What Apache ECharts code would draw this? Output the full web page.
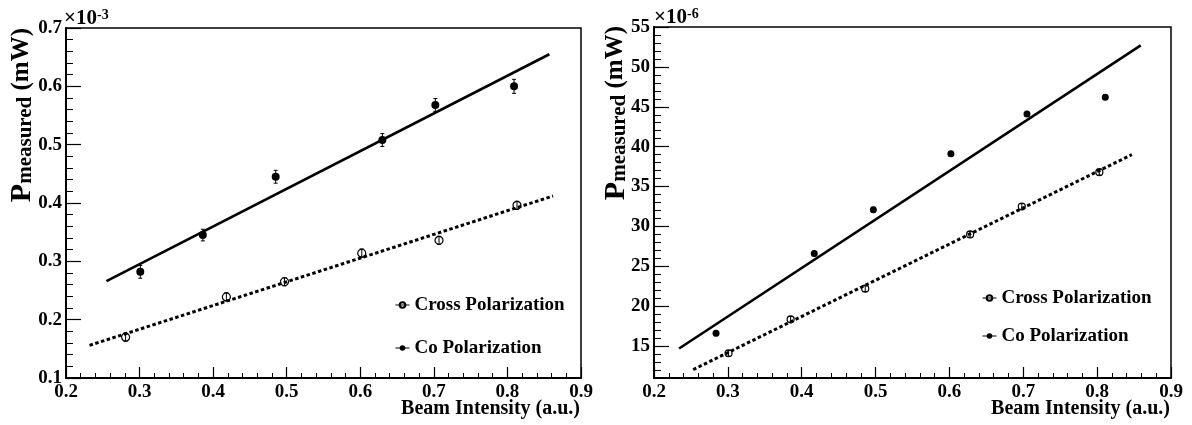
<!DOCTYPE html>
<html>
<head>
<meta charset="utf-8">
<script src="https://cdn.jsdelivr.net/npm/echarts@6/dist/echarts.min.js"></script>
<style>
html,body{margin:0;padding:0;background:#fff;}
#c{width:1192px;height:425px;}
</style>
</head>
<body>
<div id="c"></div>
<script>
// ---------- Data ----------
// Left panel (units of 1e-3 mW)
var leftCoX = [0.301, 0.386, 0.485, 0.630, 0.702, 0.809];
var leftCoY = [0.282, 0.345, 0.445, 0.508, 0.568, 0.600];
var leftCoErr = [0.011, 0.010, 0.011, 0.011, 0.011, 0.012];
var leftCrossX = [0.281, 0.418, 0.497, 0.602, 0.707, 0.813];
var leftCrossY = [0.170, 0.239, 0.265, 0.314, 0.336, 0.396];
var leftCrossErr = [0.007, 0.007, 0.007, 0.007, 0.007, 0.007];
var leftCoFitX = [0.255, 0.857];
var leftCoFitY = [0.266, 0.655];
var leftCrossFitX = [0.232, 0.862];
var leftCrossFitY = [0.156, 0.412];

// Right panel (units of 1e-6 mW)
var rightCoX = [0.284, 0.417, 0.497, 0.602, 0.705, 0.811];
var rightCoY = [16.6, 26.6, 32.1, 39.1, 44.1, 46.2];
var rightCoErr = [0.3, 0.3, 0.3, 0.3, 0.3, 0.3];
var rightCrossX = [0.301, 0.385, 0.486, 0.628, 0.698, 0.803];
var rightCrossY = [14.1, 18.35, 22.2, 29.0, 32.5, 36.8];
var rightCrossErr = [0.35, 0.35, 0.35, 0.35, 0.35, 0.35];
var rightCoFitX = [0.234, 0.859];
var rightCoFitY = [14.7, 52.7];
var rightCrossFitX = [0.253, 0.847];
var rightCrossFitY = [12.05, 39.0];

// Tick values
var rightYMajor = [15, 20, 25, 30, 35, 40, 45, 50, 55];
var rightYMinor = [12, 13, 14, 16, 17, 18, 19, 21, 22, 23, 24, 26, 27, 28, 29, 31, 32, 33, 34, 36, 37, 38, 39, 41, 42, 43, 44, 46, 47, 48, 49, 51, 52, 53, 54];

var seriesNames = ['Cross Polarization', 'Co Polarization'];
var xTitle = 'Beam Intensity (a.u.)';

// ---------- Helpers ----------
var FONT = 'Liberation Serif';
function zip(xs, ys) { return xs.map(function (x, i) { return [x, ys[i]]; }); }
function zip3(xs, ys, es) { return xs.map(function (x, i) { return [x, ys[i], es[i]]; }); }

function xAxisCfg(gi) {
  return {
    gridIndex: gi, type: 'value', min: 0.2, max: 0.9, interval: 0.1,
    axisLine: { lineStyle: { color: '#000', width: 2 } },
    axisTick: { inside: true, length: 11, lineStyle: { color: '#000', width: 1.2 } },
    minorTick: { show: true, splitNumber: 5, length: 5, lineStyle: { color: '#000', width: 1 } },
    splitLine: { show: false },
    axisLabel: { margin: 5, color: '#000', fontFamily: FONT, fontWeight: 'bold', fontSize: 19,
      formatter: function (v) { return v.toFixed(1); } }
  };
}

function errSeries(xi, yi, data) {
  return {
    type: 'custom', xAxisIndex: xi, yAxisIndex: yi, z: 2, silent: true,
    encode: { x: 0, y: 1 },
    data: data,
    renderItem: function (params, api) {
      var x = api.value(0), y = api.value(1), e = api.value(2);
      var t = api.coord([x, y + e]);
      var b = api.coord([x, y - e]);
      var st = { stroke: '#000', lineWidth: 1 };
      return {
        type: 'group',
        children: [
          { type: 'line', shape: { x1: t[0], y1: t[1], x2: b[0], y2: b[1] }, style: st },
          { type: 'line', shape: { x1: t[0] - 2, y1: t[1], x2: t[0] + 2, y2: t[1] }, style: st },
          { type: 'line', shape: { x1: b[0] - 2, y1: b[1], x2: b[0] + 2, y2: b[1] }, style: st }
        ]
      };
    }
  };
}

function pointSeries(name, xi, yi, data, open, size) {
  return {
    name: name, type: 'line', xAxisIndex: xi, yAxisIndex: yi, z: 3,
    data: data, symbol: 'circle', symbolSize: size, showSymbol: true, showAllSymbol: true,
    lineStyle: { width: 0, opacity: 0 },
    itemStyle: open ? { color: 'rgba(0,0,0,0)', borderColor: '#000', borderWidth: 1.2 }
                    : { color: '#000', borderColor: '#000', borderWidth: 0 },
    emphasis: { disabled: true }
  };
}

function fitSeries(name, xi, yi, data, dotted) {
  return {
    name: name, type: 'line', xAxisIndex: xi, yAxisIndex: yi, z: 4,
    data: data, symbol: 'none', silent: true,
    lineStyle: dotted ? { color: '#000', width: 3, type: [3.5, 2.5] } : { color: '#000', width: 2.6 }
  };
}

function legendCfg(left, top, gap) {
  return {
    data: seriesNames, orient: 'vertical', left: left, top: top,
    itemWidth: 14, itemHeight: 7, itemGap: gap, selectedMode: false,
    lineStyle: { color: '#000', width: 1, opacity: 1 },
    textStyle: { fontFamily: FONT, fontWeight: 'bold', fontSize: 19, color: '#000', lineHeight: 20 }
  };
}

var yTitleRich = {
  p: { fontFamily: FONT, fontWeight: 'bold', fontSize: 30, lineHeight: 28, color: '#000' },
  s: { fontFamily: FONT, fontWeight: 'bold', fontSize: 21, lineHeight: 6, verticalAlign: 'bottom', color: '#000' },
  u: { fontFamily: FONT, fontWeight: 'bold', fontSize: 25, lineHeight: 28, color: '#000' }
};
var expRich = {
  a: { fontFamily: FONT, fontWeight: 'bold', fontSize: 21, lineHeight: 22, color: '#000' },
  b: { fontFamily: FONT, fontWeight: 'bold', fontSize: 14, lineHeight: 8, verticalAlign: 'top', color: '#000' }
};
var xTitleStyle = { text: xTitle, fontFamily: FONT, fontWeight: 'bold', fontSize: 20, fill: '#000', align: 'right', verticalAlign: 'middle' };

var chart = echarts.init(document.getElementById('c'), null, { renderer: 'canvas' });
var option = {
  animation: false,
  backgroundColor: '#fff',
  grid: [
    { left: 66, top: 28, width: 515, height: 350, show: true, borderColor: '#000', borderWidth: 1.5, backgroundColor: 'transparent', outerBoundsMode: 'none', containLabel: false },
    { left: 654, top: 27, width: 517, height: 351, show: true, borderColor: '#000', borderWidth: 1.5, backgroundColor: 'transparent', outerBoundsMode: 'none', containLabel: false }
  ],
  xAxis: [xAxisCfg(0), xAxisCfg(1)],
  yAxis: [
    {
      gridIndex: 0, type: 'value', min: 0.1, max: 0.7, interval: 0.1,
      axisLine: { show: true, lineStyle: { color: '#000', width: 2 } },
      axisTick: { inside: true, length: 15, lineStyle: { color: '#000', width: 1.2 } },
      minorTick: { show: true, splitNumber: 5, length: 7, lineStyle: { color: '#000', width: 1 } },
      splitLine: { show: false },
      axisLabel: { margin: 4, color: '#000', fontFamily: FONT, fontWeight: 'bold', fontSize: 19,
        formatter: function (v) { return v.toFixed(1); } }
    },
    {
      gridIndex: 1, type: 'value', min: 11, max: 55, position: 'left',
      axisLine: { show: true, lineStyle: { color: '#000', width: 2 } },
      axisTick: { inside: true, length: 15, customValues: rightYMajor, lineStyle: { color: '#000', width: 1.2 } },
      splitLine: { show: false },
      axisLabel: { margin: 4, color: '#000', fontFamily: FONT, fontWeight: 'bold', fontSize: 19, customValues: rightYMajor }
    },
    {
      gridIndex: 1, type: 'value', min: 11, max: 55, position: 'left', offset: 0,
      axisLine: { show: false },
      axisTick: { show: true, inside: true, length: 7, customValues: rightYMinor, lineStyle: { color: '#000', width: 1 } },
      splitLine: { show: false },
      axisLabel: { show: false }
    }
  ],
  legend: [legendCfg(390, 290, 23), legendCfg(977, 283, 18)],
  graphic: [
    { type: 'text', x: 22, y: 28, rotation: Math.PI / 2,
      style: { text: '{p|P}{s|measured}{u| (mW)}', rich: yTitleRich, align: 'right', verticalAlign: 'middle' } },
    { type: 'text', x: 616, y: 26, rotation: Math.PI / 2,
      style: { text: '{p|P}{s|measured}{u| (mW)}', rich: yTitleRich, align: 'right', verticalAlign: 'middle' } },
    { type: 'text', x: 64, y: 19,
      style: { text: '{a|×10}{b|-3}', rich: expRich, align: 'left', verticalAlign: 'middle' } },
    { type: 'text', x: 654, y: 18,
      style: { text: '{a|×10}{b|-6}', rich: expRich, align: 'left', verticalAlign: 'middle' } },
    { type: 'text', x: 580, y: 409, style: xTitleStyle },
    { type: 'text', x: 1170, y: 409, style: xTitleStyle }
  ],
  series: [
    errSeries(0, 0, zip3(leftCrossX, leftCrossY, leftCrossErr)),
    errSeries(0, 0, zip3(leftCoX, leftCoY, leftCoErr)),
    pointSeries(seriesNames[0], 0, 0, zip(leftCrossX, leftCrossY), true, 8),
    pointSeries(seriesNames[1], 0, 0, zip(leftCoX, leftCoY), false, 8),
    fitSeries('Co fit L', 0, 0, zip(leftCoFitX, leftCoFitY), false),
    fitSeries('Cross fit L', 0, 0, zip(leftCrossFitX, leftCrossFitY), true),

    errSeries(1, 1, zip3(rightCrossX, rightCrossY, rightCrossErr)),
    errSeries(1, 1, zip3(rightCoX, rightCoY, rightCoErr)),
    pointSeries(seriesNames[0], 1, 1, zip(rightCrossX, rightCrossY), true, 7),
    pointSeries(seriesNames[1], 1, 1, zip(rightCoX, rightCoY), false, 7),
    fitSeries('Co fit R', 1, 1, zip(rightCoFitX, rightCoFitY), false),
    fitSeries('Cross fit R', 1, 1, zip(rightCrossFitX, rightCrossFitY), true)
  ]
};
chart.setOption(option);
</script>
</body>
</html>
